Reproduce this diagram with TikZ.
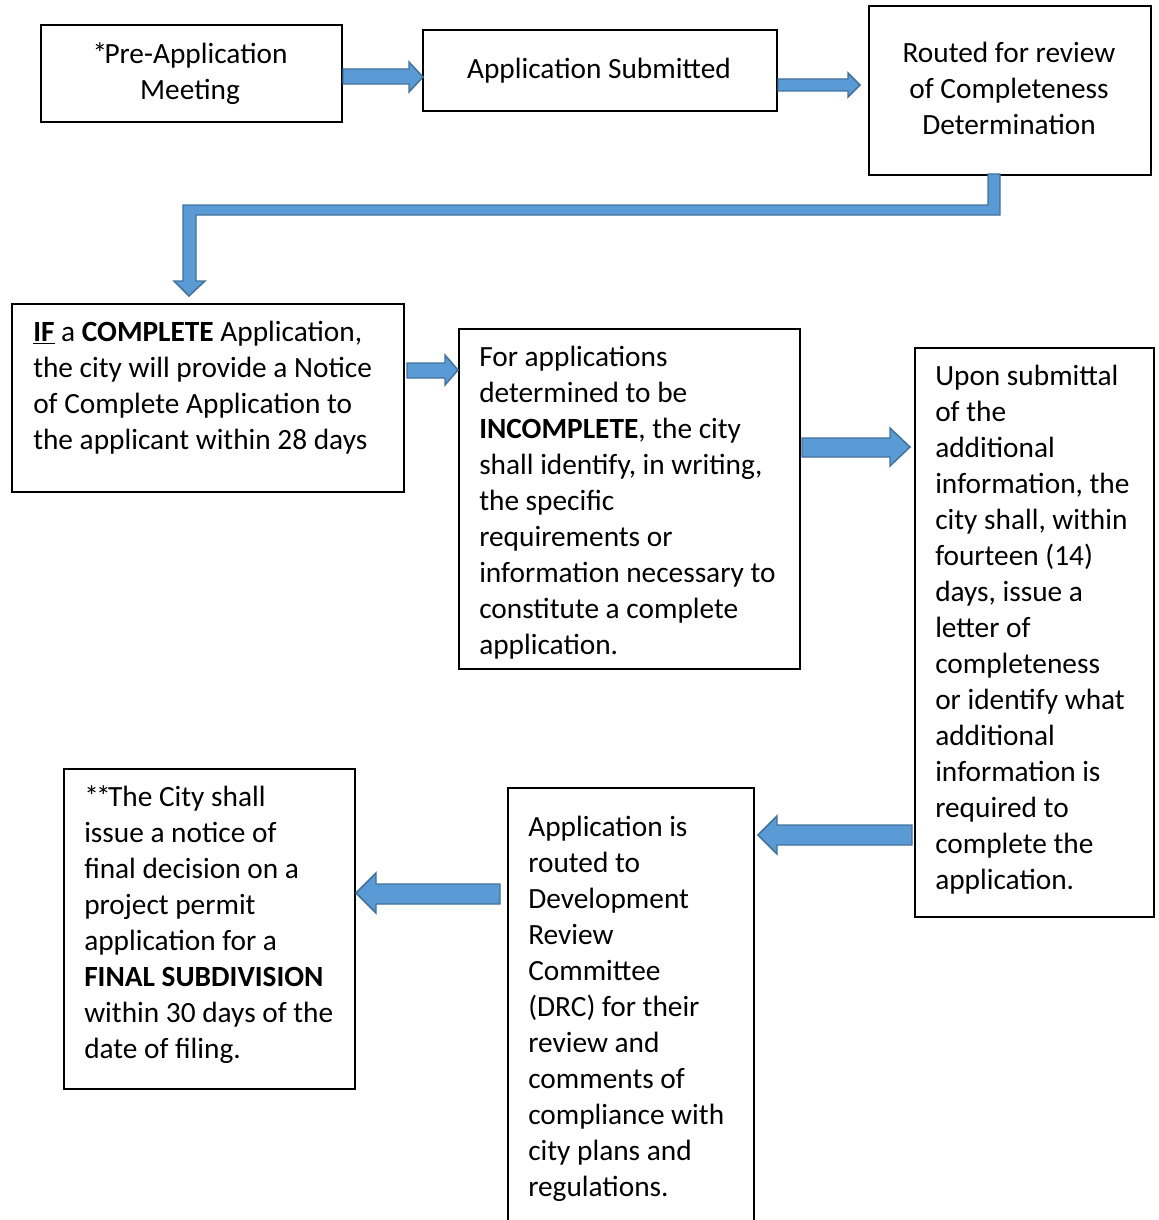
\documentclass[tikz,border=0pt]{standalone}
\usepackage{fontspec}
\setmainfont{Carlito}
\begin{document}
\begin{tikzpicture}[x=0.75pt,y=-0.75pt,
  box/.style={draw=black,line width=1.5pt,inner sep=0pt,anchor=north west},
  ctxt/.style={inner sep=0pt,align=center,anchor=base,font=\fontsize{22}{27}\selectfont},
  ltxt/.style={inner sep=0pt,align=left,anchor=base west,font=\fontsize{22}{27}\selectfont},
  barrow/.style={fill={rgb,255:red,91;green,155;blue,213},draw={rgb,255:red,65;green,113;blue,156},line width=1.1pt,line join=miter}]
\useasboundingbox (0,0) rectangle (1158,1220);

% boxes
\node[box,minimum width=301*0.75pt,minimum height=97*0.75pt] (b1) at (40,24) {};
\node[box,minimum width=354*0.75pt,minimum height=81*0.75pt] (b2) at (422,29) {};
\node[box,minimum width=282*0.75pt,minimum height=169*0.75pt] (b3) at (868,5) {};
\node[box,minimum width=392*0.75pt,minimum height=188*0.75pt] (b4) at (11,303) {};
\node[box,minimum width=341*0.75pt,minimum height=340*0.75pt] (b5) at (458,328) {};
\node[box,minimum width=239*0.75pt,minimum height=569*0.75pt] (b6) at (914,347) {};
\begin{scope}
\clip (0,0) rectangle (1158,1221);
\node[box,minimum width=246*0.75pt,minimum height=445*0.75pt] (b7) at (507,787) {};
\end{scope}
\node[box,minimum width=291*0.75pt,minimum height=320*0.75pt] (b8) at (63,768) {};

% texts (base anchor = baseline of the last line)
\node[ctxt] (t1) at (190,100) {*\kern-2pt Pre-Application\\Meeting};
\node[ctxt] (t2) at (599,79) {Application Submitted};
\node[ctxt] (t3) at (1009,135) {Routed for review\\of Completeness\\Determination};
\node[ltxt] (t4) at (33,449) {\underline{\textbf{IF}} a \textbf{COMPLETE} Application,\\the city will provide a Notice\\of Complete Application to\\the applicant within 28 days};
\node[ltxt] (t5) at (479,654) {For applications\\determined to be\\\textbf{INCOMPLETE}, the city\\shall identify, in writing,\\the specific\\requirements or\\information necessary to\\constitute a complete\\application.};
\node[ltxt] (t6) at (935,889) {Upon submittal\\of the\\additional\\information, the\\city shall, within\\fourteen (14)\\days, issue a\\letter of\\completeness\\or identify what\\additional\\information is\\required to\\complete the\\application.};
\node[ltxt] (t7) at (528,1196) {Application is\\routed to\\Development\\Review\\Committee\\(DRC) for their\\review and\\comments of\\compliance with\\city plans and\\regulations.};
\node[ltxt] (t8) at (84,1058) {*\kern-2pt*\kern-2pt The City shall\\issue a notice of\\final decision on a\\project permit\\application for a\\\textbf{FINAL SUBDIVISION}\\within 30 days of the\\date of filing.};

% block arrows
\draw[barrow] (343,69) -- (409,69) -- (409,62) -- (423,77) -- (409,92) -- (409,84) -- (343,84) -- cycle;
\draw[barrow] (778,79) -- (848,79) -- (848,73) -- (860,85) -- (848,97) -- (848,91) -- (778,91) -- cycle;
\draw[barrow] (988,174) -- (1000,174) -- (1000,215) -- (196,215) -- (196,281) -- (205,281) -- (189,296) -- (174,281) -- (183,281) -- (183,205) -- (988,205) -- cycle;
\draw[barrow] (407,363) -- (445,363) -- (445,355) -- (458,370) -- (445,385) -- (445,378) -- (407,378) -- cycle;
\draw[barrow] (802,438) -- (890,438) -- (890,428) -- (910,447) -- (890,466) -- (890,457) -- (802,457) -- cycle;
\draw[barrow] (912,825) -- (777,825) -- (777,816) -- (758,835) -- (777,854) -- (777,845) -- (912,845) -- cycle;
\draw[barrow] (500,884) -- (376,884) -- (376,873) -- (356,893) -- (376,913) -- (376,904) -- (500,904) -- cycle;
\end{tikzpicture}
\end{document}
